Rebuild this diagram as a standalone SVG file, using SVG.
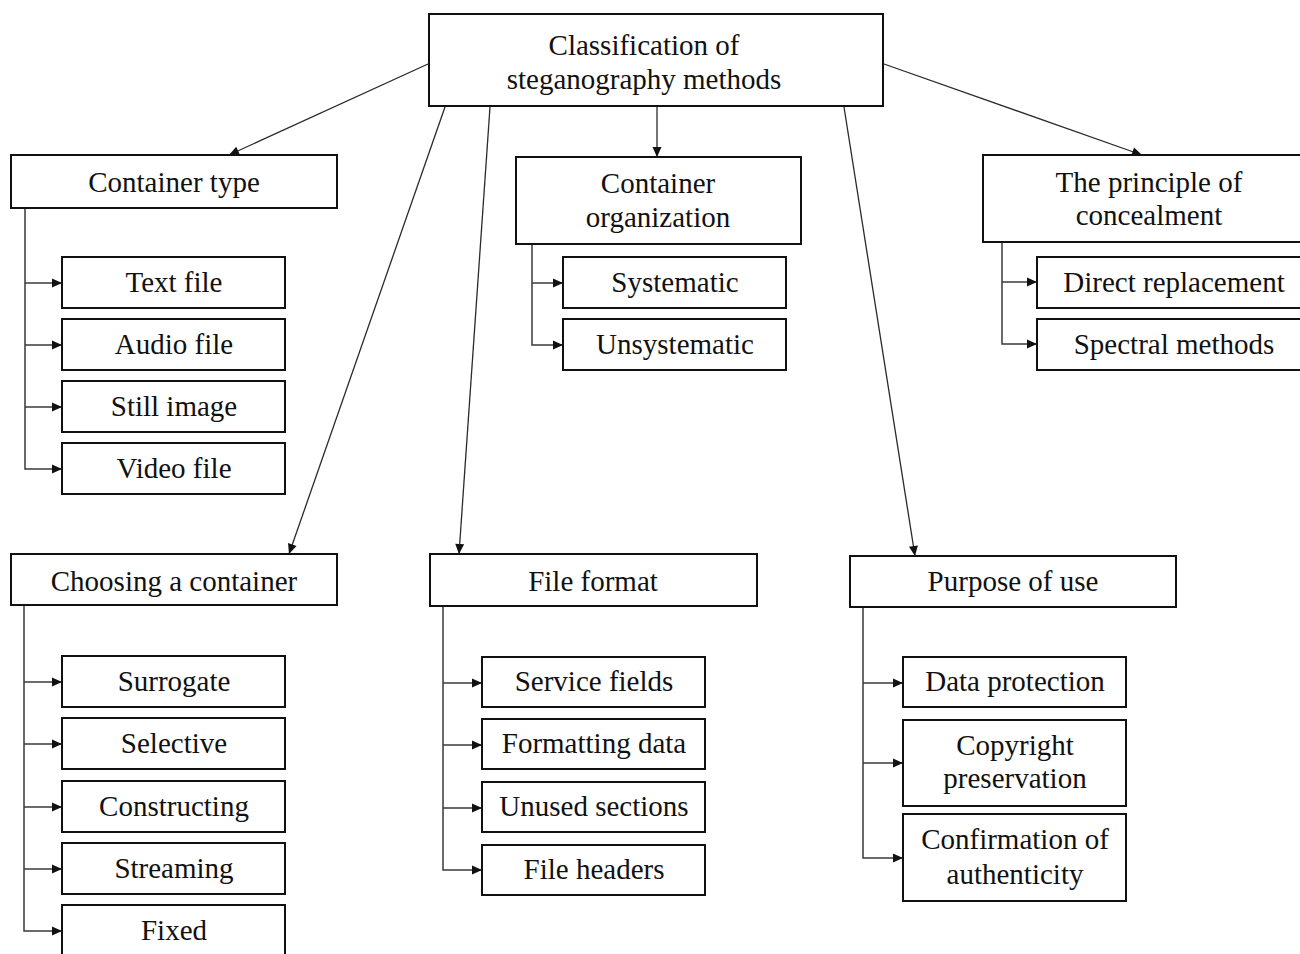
<svg xmlns="http://www.w3.org/2000/svg" width="1300" height="954" viewBox="0 0 1300 954">
  <style>
    .box { fill: #ffffff; stroke: #111111; stroke-width: 2; }
    .lbl { font-family: "Liberation Serif", "Times New Roman", serif; font-size: 29px; fill: #111111; text-anchor: middle; }
    .link { fill: none; stroke: #2a2a2a; stroke-width: 1.3; }
    .tree { fill: none; stroke: #3a3a3a; stroke-width: 1.5; }
  </style>
  <defs>
    <marker id="arrow" viewBox="0 0 10 10" refX="10" refY="5" markerWidth="11" markerHeight="10" markerUnits="userSpaceOnUse" orient="auto">
      <path d="M0,0.5 L10,5 L0,9.5 Z" fill="#111111"/>
    </marker>
  </defs>
  <rect width="1300" height="954" fill="#ffffff"/>

  <!-- connectors -->
  <g id="connectors">
    <!-- from root to categories -->
    <line class="link" x1="428" y1="64" x2="229" y2="155" marker-end="url(#arrow)"/>
    <line class="link" x1="445" y1="107" x2="289" y2="554" marker-end="url(#arrow)"/>
    <line class="link" x1="490" y1="107" x2="459" y2="554" marker-end="url(#arrow)"/>
    <line class="link" x1="657" y1="107" x2="657" y2="157" marker-end="url(#arrow)"/>
    <line class="link" x1="844" y1="107" x2="915" y2="556" marker-end="url(#arrow)"/>
    <line class="link" x1="884" y1="64" x2="1142" y2="155" marker-end="url(#arrow)"/>

    <!-- Container type branch -->
    <path class="tree" d="M25,208 V469 H62" marker-end="url(#arrow)"/>
    <path class="tree" d="M25,283 H62" marker-end="url(#arrow)"/>
    <path class="tree" d="M25,345 H62" marker-end="url(#arrow)"/>
    <path class="tree" d="M25,407 H62" marker-end="url(#arrow)"/>

    <!-- Container organization branch -->
    <path class="tree" d="M532,244 V345 H563" marker-end="url(#arrow)"/>
    <path class="tree" d="M532,283 H563" marker-end="url(#arrow)"/>

    <!-- Principle of concealment branch -->
    <path class="tree" d="M1002,242 V344 H1037" marker-end="url(#arrow)"/>
    <path class="tree" d="M1002,282 H1037" marker-end="url(#arrow)"/>

    <!-- Choosing a container branch -->
    <path class="tree" d="M24,605 V931 H62" marker-end="url(#arrow)"/>
    <path class="tree" d="M24,682 H62" marker-end="url(#arrow)"/>
    <path class="tree" d="M24,744 H62" marker-end="url(#arrow)"/>
    <path class="tree" d="M24,807 H62" marker-end="url(#arrow)"/>
    <path class="tree" d="M24,869 H62" marker-end="url(#arrow)"/>

    <!-- File format branch -->
    <path class="tree" d="M443,606 V870 H482" marker-end="url(#arrow)"/>
    <path class="tree" d="M443,683 H482" marker-end="url(#arrow)"/>
    <path class="tree" d="M443,745 H482" marker-end="url(#arrow)"/>
    <path class="tree" d="M443,808 H482" marker-end="url(#arrow)"/>

    <!-- Purpose of use branch -->
    <path class="tree" d="M863,608 V858 H903" marker-end="url(#arrow)"/>
    <path class="tree" d="M863,683 H903" marker-end="url(#arrow)"/>
    <path class="tree" d="M863,763 H903" marker-end="url(#arrow)"/>
  </g>

  <!-- root -->
  <g id="root">
    <rect class="box" x="429" y="14" width="454" height="92"/>
    <text class="lbl" x="644" y="55">Classification of</text>
    <text class="lbl" x="644" y="89">steganography methods</text>
  </g>

  <!-- Container type -->
  <g id="container-type">
    <rect class="box" x="11" y="155" width="326" height="53"/>
    <text class="lbl" x="174" y="192">Container type</text>
  </g>
  <g id="text-file">
    <rect class="box" x="62" y="257" width="223" height="51"/>
    <text class="lbl" x="174" y="292">Text file</text>
  </g>
  <g id="audio-file">
    <rect class="box" x="62" y="319" width="223" height="51"/>
    <text class="lbl" x="174" y="354">Audio file</text>
  </g>
  <g id="still-image">
    <rect class="box" x="62" y="381" width="223" height="51"/>
    <text class="lbl" x="174" y="416">Still image</text>
  </g>
  <g id="video-file">
    <rect class="box" x="62" y="443" width="223" height="51"/>
    <text class="lbl" x="174" y="478">Video file</text>
  </g>

  <!-- Container organization -->
  <g id="container-organization">
    <rect class="box" x="516" y="157" width="285" height="87"/>
    <text class="lbl" x="658" y="193">Container</text>
    <text class="lbl" x="658" y="227">organization</text>
  </g>
  <g id="systematic">
    <rect class="box" x="563" y="257" width="223" height="51"/>
    <text class="lbl" x="675" y="292">Systematic</text>
  </g>
  <g id="unsystematic">
    <rect class="box" x="563" y="319" width="223" height="51"/>
    <text class="lbl" x="675" y="354">Unsystematic</text>
  </g>

  <!-- The principle of concealment -->
  <g id="principle-of-concealment">
    <rect class="box" x="983" y="155" width="330" height="87"/>
    <text class="lbl" x="1149" y="192">The principle of</text>
    <text class="lbl" x="1149" y="225">concealment</text>
  </g>
  <g id="direct-replacement">
    <rect class="box" x="1037" y="257" width="276" height="51"/>
    <text class="lbl" x="1174" y="292">Direct replacement</text>
  </g>
  <g id="spectral-methods">
    <rect class="box" x="1037" y="319" width="276" height="51"/>
    <text class="lbl" x="1174" y="354">Spectral methods</text>
  </g>

  <!-- Choosing a container -->
  <g id="choosing-container">
    <rect class="box" x="11" y="554" width="326" height="51"/>
    <text class="lbl" x="174" y="591">Choosing a container</text>
  </g>
  <g id="surrogate">
    <rect class="box" x="62" y="656" width="223" height="51"/>
    <text class="lbl" x="174" y="691">Surrogate</text>
  </g>
  <g id="selective">
    <rect class="box" x="62" y="718" width="223" height="51"/>
    <text class="lbl" x="174" y="753">Selective</text>
  </g>
  <g id="constructing">
    <rect class="box" x="62" y="781" width="223" height="51"/>
    <text class="lbl" x="174" y="816">Constructing</text>
  </g>
  <g id="streaming">
    <rect class="box" x="62" y="843" width="223" height="51"/>
    <text class="lbl" x="174" y="878">Streaming</text>
  </g>
  <g id="fixed">
    <rect class="box" x="62" y="905" width="223" height="60"/>
    <text class="lbl" x="174" y="940">Fixed</text>
  </g>

  <!-- File format -->
  <g id="file-format">
    <rect class="box" x="430" y="554" width="327" height="52"/>
    <text class="lbl" x="593" y="591">File format</text>
  </g>
  <g id="service-fields">
    <rect class="box" x="482" y="657" width="223" height="50"/>
    <text class="lbl" x="594" y="691">Service fields</text>
  </g>
  <g id="formatting-data">
    <rect class="box" x="482" y="719" width="223" height="50"/>
    <text class="lbl" x="594" y="753">Formatting data</text>
  </g>
  <g id="unused-sections">
    <rect class="box" x="482" y="782" width="223" height="50"/>
    <text class="lbl" x="594" y="816">Unused sections</text>
  </g>
  <g id="file-headers">
    <rect class="box" x="482" y="845" width="223" height="50"/>
    <text class="lbl" x="594" y="879">File headers</text>
  </g>

  <!-- Purpose of use -->
  <g id="purpose-of-use">
    <rect class="box" x="850" y="556" width="326" height="51"/>
    <text class="lbl" x="1013" y="591">Purpose of use</text>
  </g>
  <g id="data-protection">
    <rect class="box" x="903" y="657" width="223" height="50"/>
    <text class="lbl" x="1015" y="691">Data protection</text>
  </g>
  <g id="copyright-preservation">
    <rect class="box" x="903" y="720" width="223" height="86"/>
    <text class="lbl" x="1015" y="755">Copyright</text>
    <text class="lbl" x="1015" y="788">preservation</text>
  </g>
  <g id="confirmation-authenticity">
    <rect class="box" x="903" y="814" width="223" height="87"/>
    <text class="lbl" x="1015" y="849">Confirmation of</text>
    <text class="lbl" x="1015" y="884">authenticity</text>
  </g>
</svg>
